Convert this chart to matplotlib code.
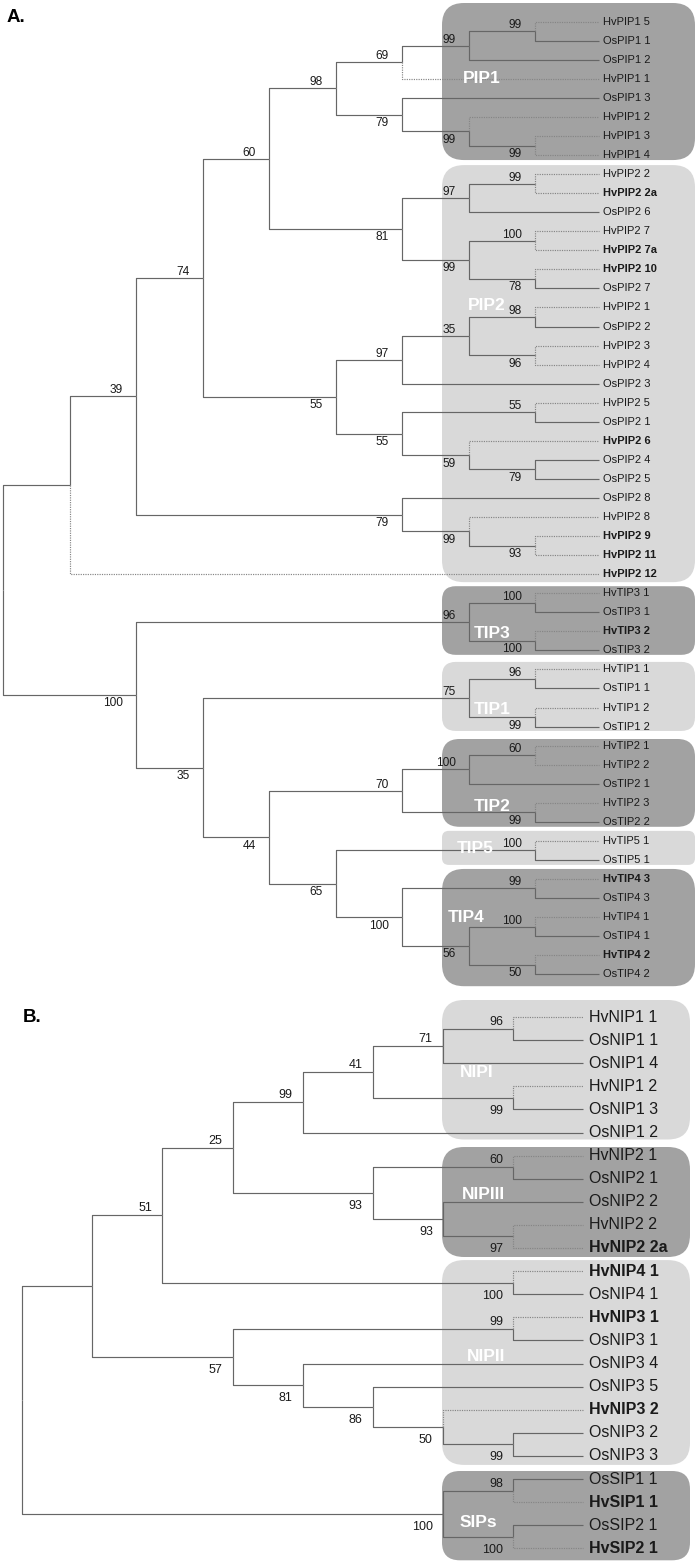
import matplotlib
matplotlib.use('Agg')
import matplotlib.pyplot as plt
from matplotlib.patches import FancyBboxPatch

plt.rcParams['font.family'] = ['Liberation Sans', 'DejaVu Sans']

# --- data: tree topologies with bootstrap values (Newick) ---
TREE_A = """
(((((((((HvPIP1 5,OsPIP1 1)99,OsPIP1 2)99,HvPIP1 1)69,
(OsPIP1 3,(HvPIP1 2,(HvPIP1 3,HvPIP1 4)99)99)79)98,
(((HvPIP2 2,HvPIP2 2a)99,OsPIP2 6)97,((HvPIP2 7,HvPIP2 7a)100,(HvPIP2 10,OsPIP2 7)78)99)81)60,
((((HvPIP2 1,OsPIP2 2)98,(HvPIP2 3,HvPIP2 4)96)35,OsPIP2 3)97,
((HvPIP2 5,OsPIP2 1)55,(HvPIP2 6,(OsPIP2 4,OsPIP2 5)79)59)55)55)74,
(OsPIP2 8,(HvPIP2 8,(HvPIP2 9,HvPIP2 11)93)99)79)39,HvPIP2 12),
(((HvTIP3 1,OsTIP3 1)100,(HvTIP3 2,OsTIP3 2)100)96,
(((HvTIP1 1,OsTIP1 1)96,(HvTIP1 2,OsTIP1 2)99)75,
((((HvTIP2 1,HvTIP2 2)60,OsTIP2 1)100,(HvTIP2 3,OsTIP2 2)99)70,
((HvTIP5 1,OsTIP5 1)100,((HvTIP4 3,OsTIP4 3)99,((HvTIP4 1,OsTIP4 1)100,(HvTIP4 2,OsTIP4 2)50)56)100)65)44)35)100);
"""

TREE_B = """
((((((((HvNIP1 1,OsNIP1 1)96,OsNIP1 4)71,(HvNIP1 2,OsNIP1 3)99)41,OsNIP1 2)99,
((HvNIP2 1,OsNIP2 1)60,(OsNIP2 2,(HvNIP2 2,HvNIP2 2a)97)93)93)25,(HvNIP4 1,OsNIP4 1)100)51,
((HvNIP3 1,OsNIP3 1)99,(OsNIP3 4,(OsNIP3 5,(HvNIP3 2,(OsNIP3 2,OsNIP3 3)99)50)86)81)57),
((OsSIP1 1,HvSIP1 1)98,(OsSIP2 1,HvSIP2 1)100)100);
"""

BOLD_A = ['HvPIP2 2a', 'HvPIP2 7a', 'HvPIP2 10', 'HvPIP2 6', 'HvPIP2 9', 'HvPIP2 11',
          'HvPIP2 12', 'HvTIP3 2', 'HvTIP4 3', 'HvTIP4 2']
BOLD_B = ['HvNIP2 2a', 'HvNIP4 1', 'HvNIP3 1', 'HvNIP3 2', 'HvSIP1 1', 'HvSIP2 1']

# group name, first leaf, last leaf, shade
GROUPS_A = [('PIP1', 'HvPIP1 5', 'HvPIP1 4', 'dark'),
            ('PIP2', 'HvPIP2 2', 'HvPIP2 12', 'light'),
            ('TIP3', 'HvTIP3 1', 'OsTIP3 2', 'dark'),
            ('TIP1', 'HvTIP1 1', 'OsTIP1 2', 'light'),
            ('TIP2', 'HvTIP2 1', 'OsTIP2 2', 'dark'),
            ('TIP5', 'HvTIP5 1', 'OsTIP5 1', 'light'),
            ('TIP4', 'HvTIP4 3', 'OsTIP4 2', 'dark')]
GROUPS_B = [('NIPI', 'HvNIP1 1', 'OsNIP1 2', 'light'),
            ('NIPIII', 'HvNIP2 1', 'HvNIP2 2a', 'dark'),
            ('NIPII', 'HvNIP4 1', 'OsNIP3 3', 'light'),
            ('SIPs', 'OsSIP1 1', 'HvSIP2 1', 'dark')]

# --- layout (pixels) ---
SHADES = {'dark': '#a2a2a2', 'light': '#d9d9d9'}
LINE = dict(color='#666666', lw=0.85, solid_capstyle='butt')
DOT = dict(color='#858585', lw=0.85, linestyle=(0, (1, 1)))

PANEL_A = dict(y0=21.7, row=19.05, x_leaf=601.5, step=66.5, line_end=598.5, text_x=603,
               leaf_fs=8, boot_fs=8.6, boot_gap=13, above=-6, below=8.5,
               box_x=(442, 695), group_fs=12.5)
PANEL_B = dict(y0=1017, row=23.1, x_leaf=583, step=70.1, line_end=583, text_x=589,
               leaf_fs=11.5, boot_fs=9, boot_gap=10, above=-7, below=13,
               box_x=(442, 690), group_fs=12.5)

# box padding (top, bottom) and group label anchor (x px, leaf row)
BOX_PAD = {'PIP1': (18.7, 5), 'PIP2': (9, 8), 'TIP3': (7, 4.5), 'TIP1': (7.5, 4.4),
           'TIP2': (6.6, 5), 'TIP5': (10, 5), 'TIP4': (10, 12),
           'NIPI': (17, 7), 'NIPIII': (8.6, 9), 'NIPII': (11, 9), 'SIPs': (8, 12)}
GROUP_LABEL = {'PIP1': (463, 3.0), 'PIP2': (468, 14.9), 'TIP3': (474, 32.1),
               'TIP1': (474, 36.1), 'TIP2': (474, 41.2), 'TIP5': (457, 43.4),
               'TIP4': (448, 47.0), 'NIPI': (460, 2.42), 'NIPIII': (462, 7.7),
               'NIPII': (467, 14.7), 'SIPs': (460, 21.9)}


def parse_newick(text):
    s = text.replace('\n', '').strip().rstrip(';')
    pos = 0

    def read_label():
        nonlocal pos
        start = pos
        while pos < len(s) and s[pos] not in ',()':
            pos += 1
        return s[start:pos].strip()

    def read_node():
        nonlocal pos
        while s[pos] == ' ':
            pos += 1
        if s[pos] == '(':
            pos += 1
            kids = [read_node()]
            while s[pos] == ',':
                pos += 1
                kids.append(read_node())
            pos += 1
            return {'kids': kids, 'boot': read_label()}
        return {'name': read_label()}

    return read_node()


def place(node, counter, leaves):
    if 'kids' not in node:
        node['row'] = counter[0]
        node['h'] = 0
        leaves[node['name']] = counter[0]
        counter[0] += 1
        return
    for kid in node['kids']:
        place(kid, counter, leaves)
    node['row'] = (node['kids'][0]['row'] + node['kids'][-1]['row']) / 2
    node['h'] = 1 + max(k['h'] for k in node['kids'])


def draw_node(ax, node, p, bold):
    y_of = lambda r: p['y0'] + r * p['row']
    x_of = lambda h: p['x_leaf'] - h * p['step']
    xn, yn = x_of(node['h']), y_of(node['row'])
    for i, kid in enumerate(node['kids']):
        yk = y_of(kid['row'])
        if 'kids' in kid:
            xk = x_of(kid['h'])
            ax.plot([xn, xn, xk], [yn, yk, yk], zorder=2, **LINE)
            if kid['boot']:
                dy = p['above'] if i == 0 else p['below']
                ax.text(xk - p['boot_gap'], yk + dy, kid['boot'], ha='right', va='center',
                        fontsize=p['boot_fs'], color='#1a1a1a', zorder=4)
            draw_node(ax, kid, p, bold)
        else:
            style = DOT if kid['name'].startswith('Hv') else LINE
            ax.plot([xn, xn, p['line_end']], [yn, yk, yk], zorder=2, **style)
            ax.text(p['text_x'], yk, kid['name'], ha='left', va='center',
                    fontsize=p['leaf_fs'], color='#1a1a1a',
                    fontweight='bold' if kid['name'] in bold else 'normal', zorder=4)


def draw_panel(ax, newick, groups, bold, p):
    tree = parse_newick(newick)
    leaves = {}
    place(tree, [0], leaves)
    for name, first, last, shade in groups:
        pad_top, pad_bot = BOX_PAD[name]
        top = p['y0'] + leaves[first] * p['row'] - pad_top
        bottom = p['y0'] + leaves[last] * p['row'] + pad_bot
        height = bottom - top
        x0, x1 = p['box_x']
        r = min(22, 0.2 * height)
        ax.add_patch(FancyBboxPatch((x0, top), x1 - x0, height,
                                    boxstyle=f'round,pad=0,rounding_size={r}',
                                    fc=SHADES[shade], ec='none', zorder=0))
        lx, lrow = GROUP_LABEL[name]
        ax.text(lx, p['y0'] + lrow * p['row'], name, ha='left', va='center',
                fontsize=p['group_fs'], fontweight='bold', color='white', zorder=5)
    draw_node(ax, tree, p, bold)


fig = plt.figure(figsize=(7, 15.65), dpi=100)
ax = fig.add_axes([0, 0, 1, 1])
ax.set_xlim(0, 700)
ax.set_ylim(1565, 0)
ax.axis('off')

draw_panel(ax, TREE_A, GROUPS_A, BOLD_A, PANEL_A)
draw_panel(ax, TREE_B, GROUPS_B, BOLD_B, PANEL_B)

ax.text(7, 18, 'A.', fontsize=13.5, fontweight='bold', ha='left', va='center')
ax.text(23, 1018, 'B.', fontsize=13.5, fontweight='bold', ha='left', va='center')

fig.savefig('out.png', dpi=100)
